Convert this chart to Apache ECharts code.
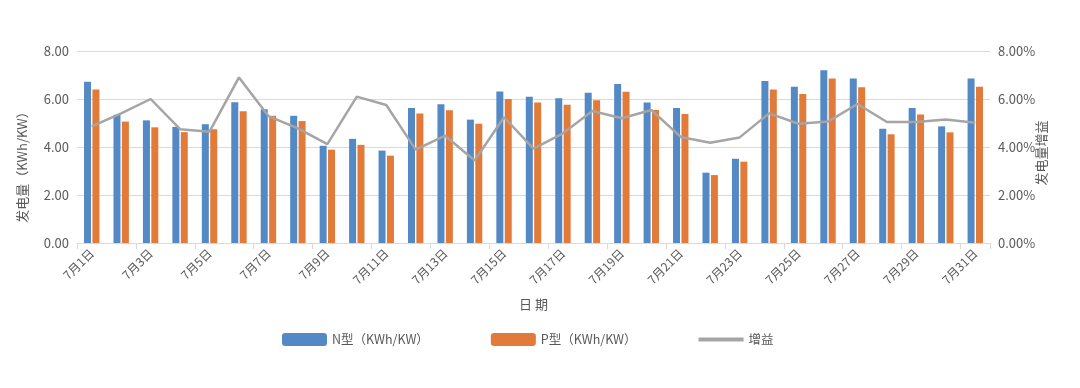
<!DOCTYPE html>
<html><head><meta charset="utf-8">
<script src="https://cdn.jsdelivr.net/npm/echarts@6/dist/echarts.min.js"></script>
<style>html,body{margin:0;padding:0;background:#fff}#c{width:1080px;height:388px}</style>
</head><body><div id="c"></div>
<script>
const categories = Array.from({length:31},(_, i)=>'7月'+(i+1)+'日');
const nType = [6.72,5.34,5.11,4.84,4.95,5.86,5.57,5.30,4.05,4.34,3.85,5.63,5.78,5.14,6.31,6.09,6.03,6.26,6.63,5.85,5.63,2.93,3.51,6.75,6.51,7.20,6.85,4.76,5.63,4.86,6.85];
const pType = [6.40,5.06,4.82,4.62,4.74,5.49,5.30,5.08,3.89,4.09,3.64,5.40,5.53,4.97,6.00,5.85,5.76,5.95,6.30,5.54,5.38,2.83,3.39,6.40,6.21,6.85,6.49,4.53,5.35,4.61,6.51];
const gain  = [4.86,5.40,6.00,4.74,4.64,6.90,5.29,4.78,4.12,6.10,5.75,3.89,4.47,3.44,5.24,3.93,4.57,5.50,5.20,5.54,4.42,4.18,4.40,5.40,4.97,5.06,5.79,5.04,5.04,5.15,5.01];
const leftTicks = [0,2,4,6,8];
const rightTicks = [0,2,4,6,8];

const font = 'Noto Sans CJK SC';
const txt = '#595959';
const chart = echarts.init(document.getElementById('c'), null, {renderer:'canvas'});
chart.setOption({
  animation:false,
  textStyle:{fontFamily:font},
  grid:{left:77,right:90,top:51,bottom:145},
  legend:{
    left:277, top:328, itemWidth:45, itemHeight:13, itemGap:62,
    textStyle:{color:txt,fontSize:12.5,fontFamily:font},
    data:[{name:'N型（KWh/KW）'},{name:'P型（KWh/KW）'},
          {name:'增益',icon:'path://M0,0 L45,0 L45,4 L0,4 Z',itemStyle:{color:'#a5a5a5'}}]
  },
  xAxis:{
    type:'category', data:categories, boundaryGap:true,
    name:'日 期', nameLocation:'middle', nameGap:55,
    nameTextStyle:{color:txt,fontSize:13,fontFamily:font},
    axisLine:{lineStyle:{color:'#d9d9d9',width:1}},
    axisTick:{show:true,interval:1,length:6,lineStyle:{color:'#d9d9d9'}},
    axisLabel:{interval:1,rotate:45,color:txt,fontSize:12,fontFamily:font,margin:8}
  },
  yAxis:[{
    type:'value', min:leftTicks[0], max:leftTicks[leftTicks.length-1], interval:2,
    name:'发电量（KWh/KW）', nameLocation:'middle', nameRotate:90, nameGap:48, nameMoveOverlap:false,
    nameTextStyle:{color:txt,fontSize:13,fontFamily:font,padding:[0,0,0,-34]},
    axisLine:{show:false}, axisTick:{show:false},
    axisLabel:{color:txt,fontSize:13,fontFamily:font,margin:8,formatter:v=>v.toFixed(2)},
    splitLine:{lineStyle:{color:'#d9d9d9',width:1}}
  },{
    type:'value', min:rightTicks[0], max:rightTicks[rightTicks.length-1], interval:2,
    name:'发电量增益', nameLocation:'middle', nameRotate:90, nameGap:45, nameMoveOverlap:false,
    nameTextStyle:{color:txt,fontSize:13,fontFamily:font,padding:[0,0,0,-12]},
    axisLine:{show:false}, axisTick:{show:false},
    axisLabel:{color:txt,fontSize:13,fontFamily:font,margin:8,formatter:v=>v.toFixed(2)+'%'},
    splitLine:{show:false}
  }],
  series:[
    {name:'N型（KWh/KW）',type:'bar',data:nType,barWidth:7,barGap:'20%',itemStyle:{color:'#5389c4'}},
    {name:'P型（KWh/KW）',type:'bar',data:pType,barWidth:7,barGap:'20%',itemStyle:{color:'#e27a3a'}},
    {name:'增益',type:'line',yAxisIndex:1,data:gain,symbol:'none',lineStyle:{color:'#a5a5a5',width:2.5},itemStyle:{color:'#a5a5a5'},z:5}
  ]
});
</script></body></html>
